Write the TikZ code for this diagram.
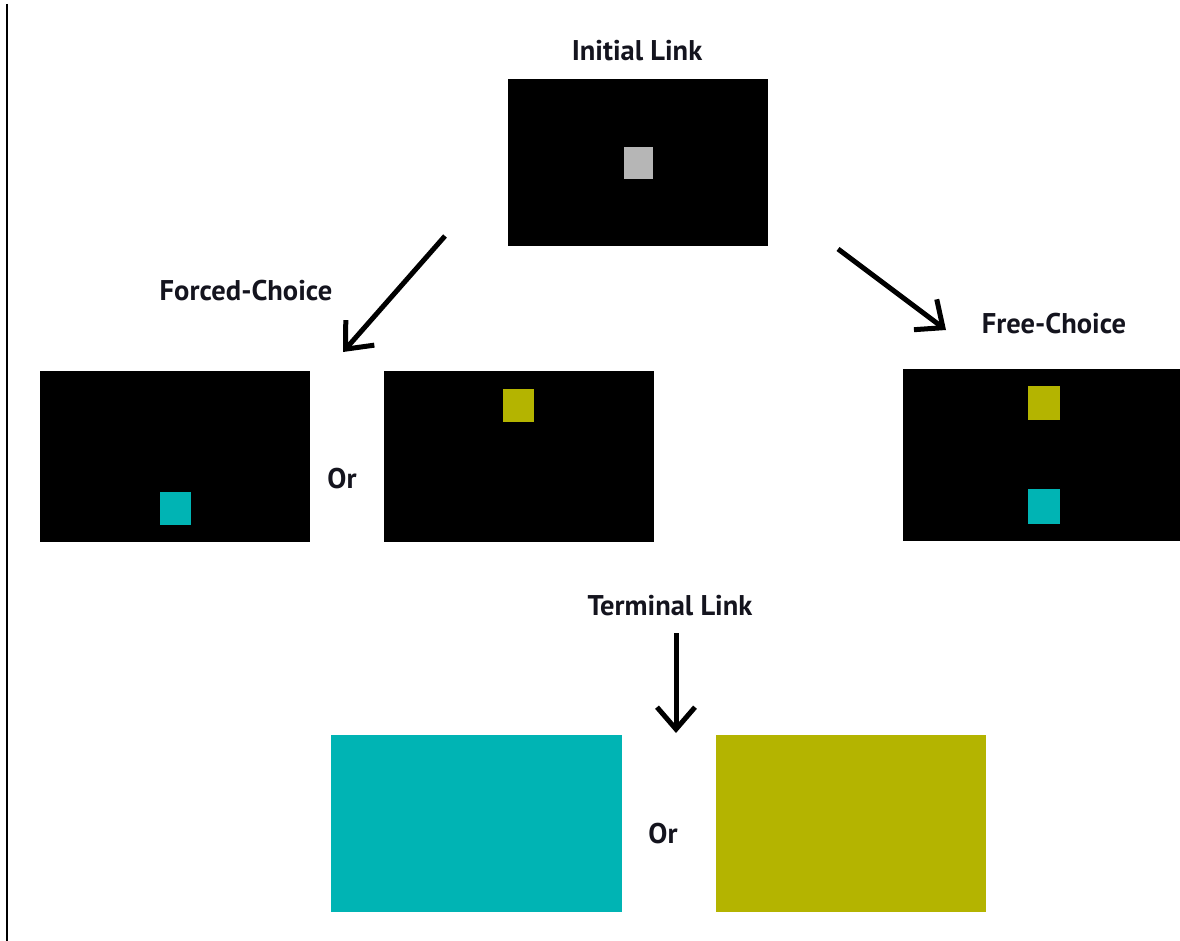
\documentclass[tikz,border=0pt]{standalone}
\usepackage{fontspec}
\setmainfont{PT Sans}
\usetikzlibrary{arrows.meta}
\definecolor{cuecyan}{RGB}{0,180,180}
\definecolor{cueyellow}{RGB}{180,180,0}
\definecolor{cuegrey}{RGB}{182,182,182}
\definecolor{labelink}{RGB}{20,20,30}
\begin{document}
\begin{tikzpicture}[x=1pt,y=-1pt,
  screen/.style={fill=black},
  keylight/.style={fill=#1},
  label/.style={anchor=base,inner sep=0pt,text=labelink,font=\fontsize{28.5}{32}\selectfont\bfseries},
  flow/.style={line width=5pt,-{Straight Barb[length=22pt,width=38pt,line width=5pt]}}
]
\useasboundingbox (0,0) rectangle (1180,941);
% left rule
\draw[line width=2pt] (7,4) -- (7,941);

% initial link screen
\fill[screen] (508,79) rectangle (768,246);
\fill[keylight=cuegrey] (624,147) rectangle (653,179);
\node[label] (initial) at (637,61) {Initial Link};

% forced-choice screens
\fill[screen] (40,371) rectangle (310,542);
\fill[keylight=cuecyan] (160,492) rectangle (191,525);
\fill[screen] (384,371) rectangle (654,542);
\fill[keylight=cueyellow] (503,389) rectangle (534,422);
\node[label] (forced) at (246,300) {Forced-Choice};
\node[label] (or1) at (342,488) {Or};

% free-choice screen
\fill[screen] (903,369) rectangle (1180,541);
\fill[keylight=cueyellow] (1028,386) rectangle (1060,420);
\fill[keylight=cuecyan] (1028,489) rectangle (1060,524);
\node[label] (free) at (1054,333) {Free-Choice};

% terminal link
\node[label] (terminal) at (670,615) {Terminal Link};
\fill[keylight=cuecyan] (331,735) rectangle (622,912);
\fill[keylight=cueyellow] (716,735) rectangle (986,912);
\node[label] (or2) at (663,843) {Or};

% arrows
\coordinate (lstart) at (445,236);
\coordinate (lend) at (343,352);
\coordinate (rstart) at (838,249);
\coordinate (rend) at (946,330);
\coordinate (dstart) at (676,633);
\coordinate (dend) at (676,733);
\draw[flow] (lstart) -- (lend);
\draw[flow] (rstart) -- (rend);
\draw[flow] (dstart) -- (dend);
\end{tikzpicture}
\end{document}
